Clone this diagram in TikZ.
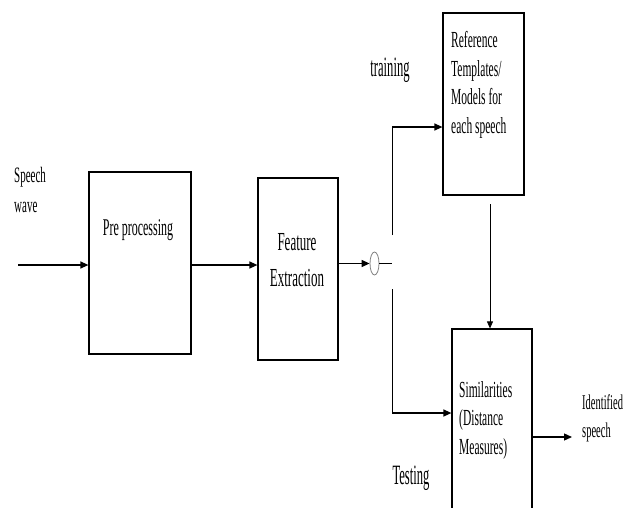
\documentclass[tikz,border=0pt]{standalone}
\usepackage{fontspec}
\setmainfont{Liberation Serif}
\newfontfamily\narrowfont[FakeStretch=0.5]{Liberation Serif}
\newfontfamily\narrowerfont[FakeStretch=0.45]{Liberation Serif}
\usetikzlibrary{arrows.meta,shapes.geometric}
\tikzset{
  box/.style={draw,line width=1.2pt,minimum width=#1,inner sep=0pt},
  lbl/.style={inner sep=0pt,align=left,font=\narrowfont\fontsize{23}{28.5}\selectfont},
  arr/.style={line width=1.3pt,-{Triangle[length=8pt,width=7pt]}},
  thinarr/.style={line width=0.8pt,-{Triangle[length=7pt,width=6pt]}},
}
\begin{document}
\begin{tikzpicture}[x=1pt,y=-1pt]
    \clip (0,0) rectangle (633,507);
    \fill[white] (0,0) rectangle (633,507);

    \node[box=102pt,minimum height=182pt] (pre) at (140,263) {};
    \node[box=80pt,minimum height=182pt] (feat) at (298,269) {};
    \node[box=81pt,minimum height=182pt] (ref) at (483.5,104) {};
    \node[box=80pt,minimum height=200pt] (sim) at (492,429) {};
    \node[draw=gray,line width=0.8pt,ellipse,minimum width=9pt,minimum height=23pt,inner sep=0pt] (sw) at (374.5,263.5) {};

    \node[lbl,anchor=west,font=\narrowfont\fontsize{22}{30}\selectfont] (speech) at (14,190) {Speech\\wave};
    \node[lbl,font=\narrowfont\fontsize{24}{28}\selectfont] (prelbl) at (138,230) {Pre processing};
    \node[lbl,align=center,font=\narrowfont\fontsize{26}{36}\selectfont] (featlbl) at (297,260) {Feature\\Extraction};
    \node[lbl,font=\narrowerfont\fontsize{28}{30}\selectfont] (train) at (390,70) {training};
    \node[lbl,anchor=west] (reflbl) at (451,85) {Reference\\Templates/\\Models for\\each speech};
    \node[lbl,anchor=west] (simlbl) at (459,420) {Similarities\\(Distance\\Measures)};
    \node[lbl,anchor=west,font=\narrowfont\fontsize{21}{28}\selectfont] (ident) at (582,418) {Identified\\speech};
    \node[lbl,font=\narrowerfont\fontsize{28}{30}\selectfont] (test) at (411,478) {Testing};

    \coordinate (in) at (18,265);
    \coordinate (tap) at (392,263.5);
    \coordinate (trb) at (392,235);
    \coordinate (trt) at (392,127);
    \coordinate (tsb) at (392,289);
    \coordinate (tst) at (392,413);
    \coordinate (rd) at (490,204);
    \coordinate (out) at (572,437);

    \draw[arr] (in) -- (in -| pre.west);
    \draw[arr] (pre.east) ++(0,2) -- ([yshift=-2pt]pre.east -| feat.west);
    \draw[arr] (sw.west -| feat.east) -- (sw.west);
    \draw[line width=1.3pt] (sw.east) -- (tap);
    \draw[line width=0.8pt] (trb) -- (trt);
    \draw[arr] (trt) -- (trt -| ref.west);
    \draw[line width=0.8pt] (tsb) -- (tst);
    \draw[arr] (tst) -- (tst -| sim.west);
    \draw[thinarr] (rd) -- (rd |- sim.north);
    \draw[arr] (out -| sim.east) -- (out);

\end{tikzpicture}
\end{document}
